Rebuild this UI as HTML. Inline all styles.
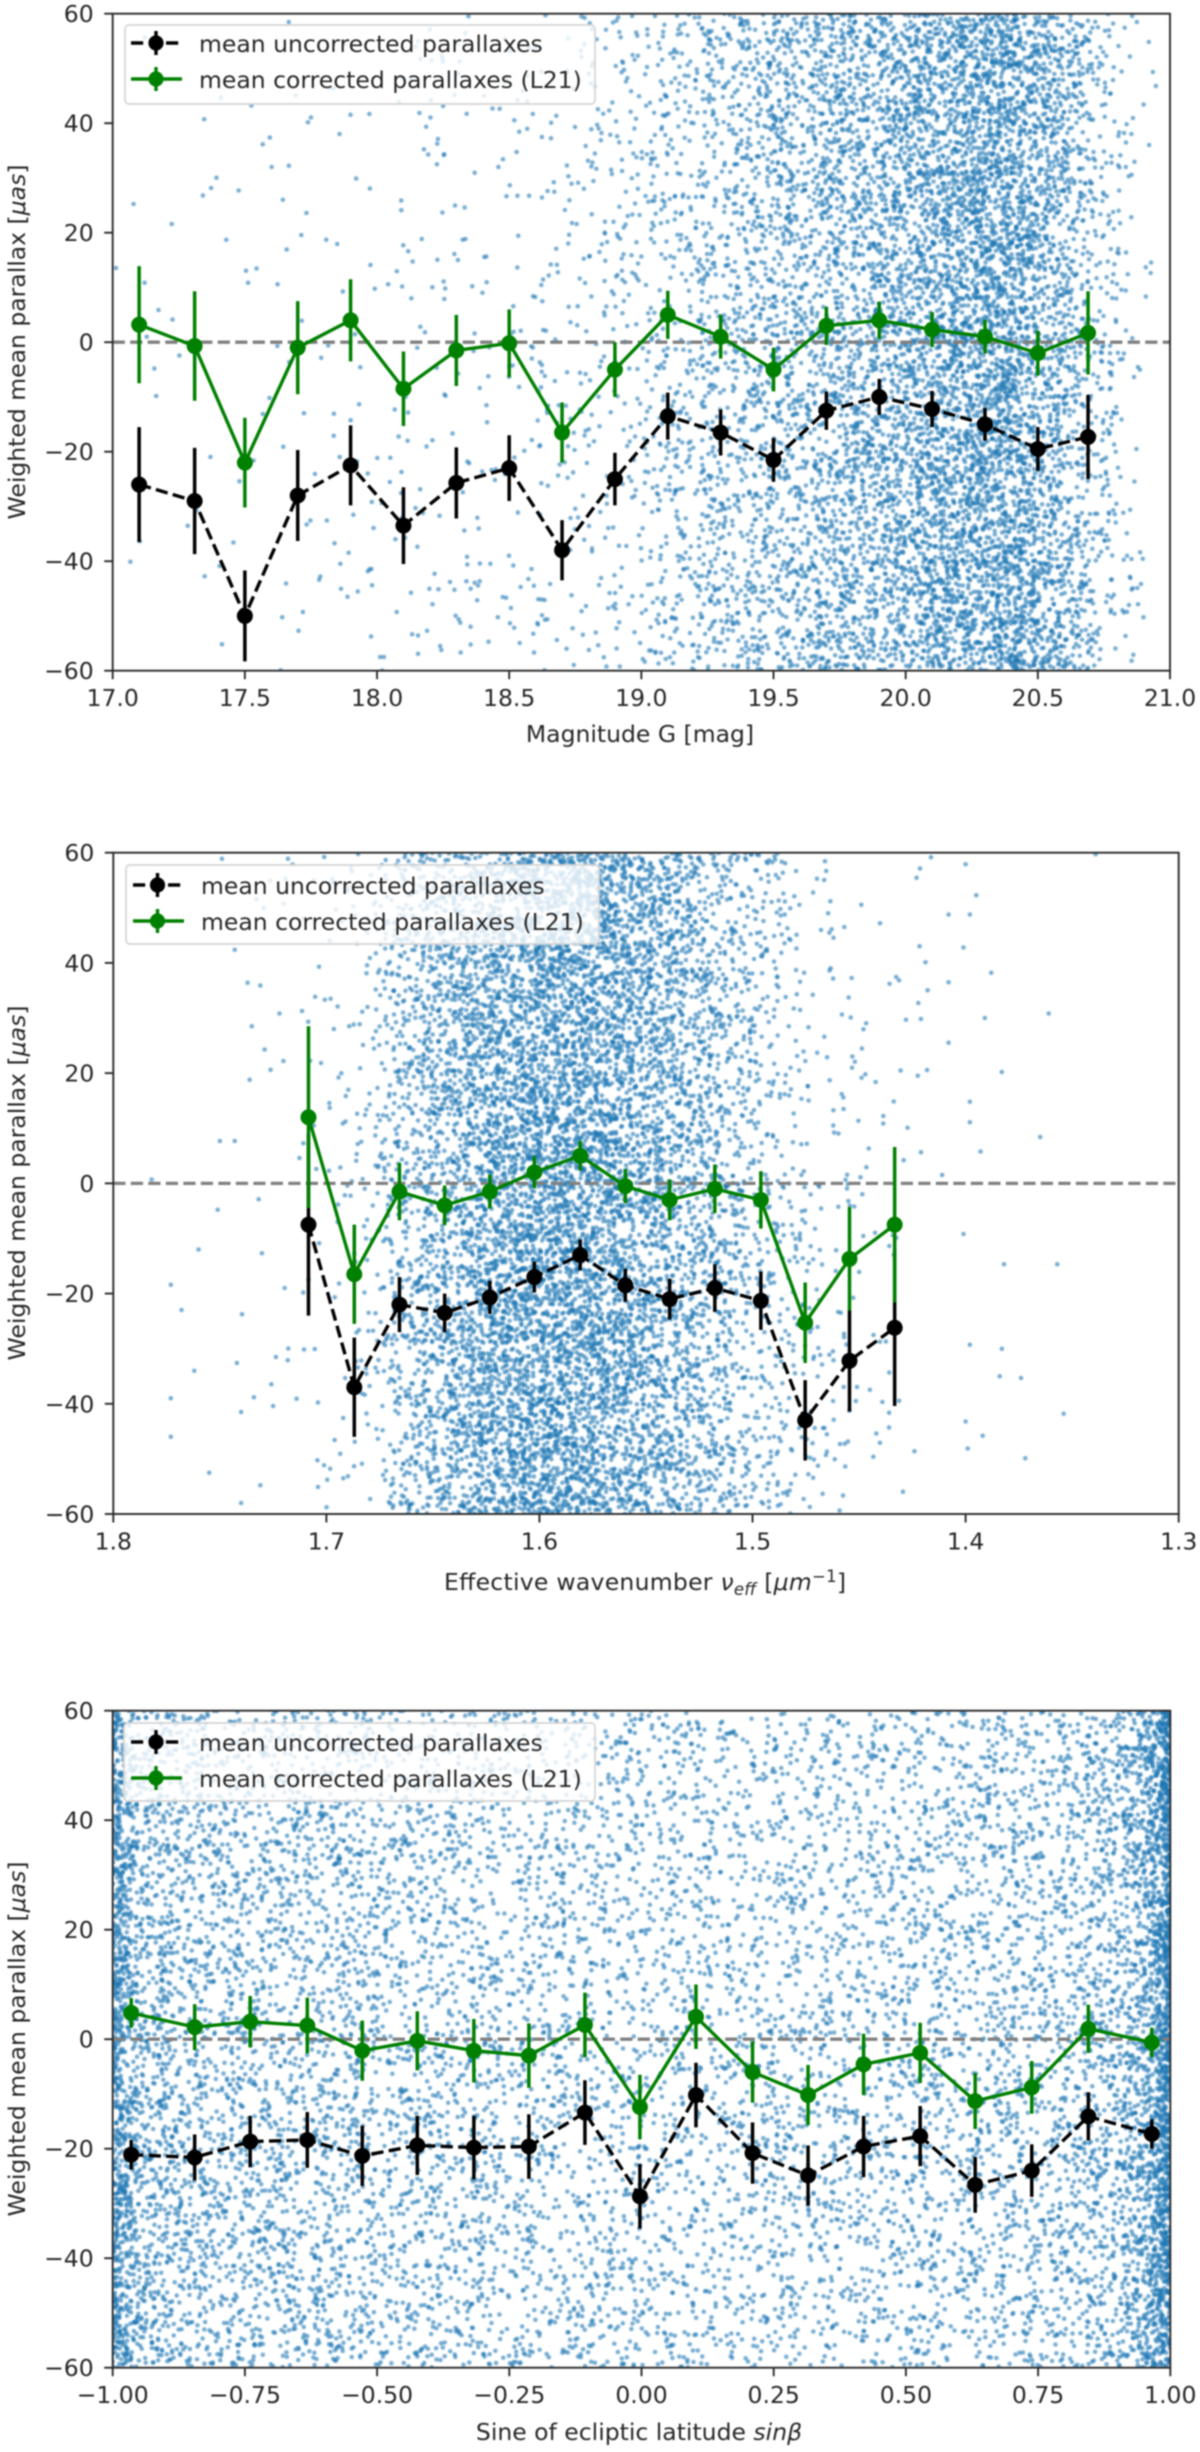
<!DOCTYPE html>
<html lang="en">
<head>
<meta charset="utf-8">
<title>Weighted mean parallax charts</title>
<style>
html,body{margin:0;padding:0;background:#fff;}
#figure{position:relative;width:1200px;height:2452px;background:#fff;overflow:hidden;filter:blur(0.7px);}
#cloud{position:absolute;left:0;top:0;}
#overlay{position:absolute;left:0;top:0;}
text{font-family:"DejaVu Sans","Liberation Sans",sans-serif;font-size:23.5px;fill:#262626;}
.leg-box{fill:#fff;fill-opacity:.8;stroke:#d4d4d4;stroke-width:1.7;}
</style>
</head>
<body>
<div id="figure">
<canvas id="cloud" width="1200" height="2452"></canvas>
<svg id="overlay" width="1200" height="2452" viewBox="0 0 1200 2452" xmlns="http://www.w3.org/2000/svg">
  <g id="panel-mag-marks"></g>
  <g id="panel-nu-marks"></g>
  <g id="panel-sin-marks"></g>

  <!-- Panel 1 titles and legend -->
  <text x="640" y="742" text-anchor="middle">Magnitude G [mag]</text>
  <text transform="translate(25,342) rotate(-90)" text-anchor="middle">Weighted mean parallax [<tspan font-style="italic">μas</tspan>]</text>
  <g transform="translate(125,25)">
    <rect class="leg-box" width="470" height="79" rx="4"></rect>
    <g>
      <path d="M6 18H57" stroke="#000" stroke-width="3.4" stroke-dasharray="12.2 5.3" fill="none"></path>
      <path d="M31 6V30" stroke="#000" stroke-width="3.4"></path>
      <circle cx="31" cy="18" r="7.600"></circle>
      <text x="74" y="27">mean uncorrected parallaxes</text>
    </g>
    <g>
      <path d="M6 54H57" stroke="#008000" stroke-width="3.4" fill="none"></path>
      <path d="M31 42V66" stroke="#008000" stroke-width="3.4"></path>
      <circle cx="31" cy="54" r="7.600" fill="#008000"></circle>
      <text x="74" y="63">mean corrected parallaxes (L21)</text>
    </g>
  </g>

  <!-- Panel 2 titles and legend -->
  <text x="645" y="1590" text-anchor="middle" textLength="402" lengthAdjust="spacing">Effective wavenumber <tspan font-style="italic">ν</tspan><tspan font-style="italic" font-size="16.5" dy="5">eff</tspan><tspan dy="-5"> [</tspan><tspan font-style="italic">μm</tspan><tspan font-size="16.5" dy="-8">−1</tspan><tspan dy="8">]</tspan></text>
  <text transform="translate(25,1183) rotate(-90)" text-anchor="middle">Weighted mean parallax [<tspan font-style="italic">μas</tspan>]</text>
  <g transform="translate(126,865)">
    <rect class="leg-box" width="473" height="79" rx="4"></rect>
    <g>
      <path d="M7 20H58" stroke="#000" stroke-width="3.4" stroke-dasharray="12.2 5.3" fill="none"></path>
      <path d="M31.500 8V32" stroke="#000" stroke-width="3.4"></path>
      <circle cx="31.500" cy="20" r="7.600"></circle>
      <text x="75" y="29">mean uncorrected parallaxes</text>
    </g>
    <g>
      <path d="M7 56H58" stroke="#008000" stroke-width="3.4" fill="none"></path>
      <path d="M31.500 44V68" stroke="#008000" stroke-width="3.4"></path>
      <circle cx="31.500" cy="56" r="7.600" fill="#008000"></circle>
      <text x="75" y="65">mean corrected parallaxes (L21)</text>
    </g>
  </g>

  <!-- Panel 3 titles and legend -->
  <text x="639" y="2440" text-anchor="middle">Sine of ecliptic latitude <tspan font-style="italic">sinβ</tspan></text>
  <text transform="translate(25,2039) rotate(-90)" text-anchor="middle">Weighted mean parallax [<tspan font-style="italic">μas</tspan>]</text>
  <g transform="translate(124,1723)">
    <rect class="leg-box" width="471" height="78" rx="4"></rect>
    <g>
      <path d="M7 19H58" stroke="#000" stroke-width="3.4" stroke-dasharray="12.2 5.3" fill="none"></path>
      <path d="M32 7V31" stroke="#000" stroke-width="3.4"></path>
      <circle cx="32" cy="19" r="7.600"></circle>
      <text x="75" y="28">mean uncorrected parallaxes</text>
    </g>
    <g>
      <path d="M7 55H58" stroke="#008000" stroke-width="3.4" fill="none"></path>
      <path d="M32 43V67" stroke="#008000" stroke-width="3.4"></path>
      <circle cx="32" cy="55" r="7.600" fill="#008000"></circle>
      <text x="75" y="64">mean corrected parallaxes (L21)</text>
    </g>
  </g>
</svg>
</div>
<script>
// ---------- shared axis labels ----------
const yTicks = [-60, -40, -20, 0, 20, 40, 60];
const yTickLabels = ['−60', '−40', '−20', '0', '20', '40', '60'];

// ---------- panel 1: magnitude G ----------
const magCategories = [17.1, 17.31, 17.5, 17.7, 17.9, 18.1, 18.3, 18.5, 18.7, 18.9, 19.1, 19.3, 19.5, 19.7, 19.9, 20.1, 20.3, 20.5, 20.69];
const magUncorrected = [-26, -29, -50, -28, -22.5, -33.5, -25.7, -23, -38, -25, -13.5, -16.5, -21.5, -12.5, -10, -12.2, -15, -19.5, -17.3];
const magUncorrectedErr = [10.5, 9.7, 8.3, 8.3, 7.3, 7, 6.5, 6, 5.5, 4.8, 4.3, 4.2, 4, 3.5, 3.3, 3.3, 3, 4, 7.7];
const magCorrected = [3.2, -0.7, -22, -1, 4, -8.5, -1.5, -0.2, -16.5, -5, 5, 1, -5, 3, 4, 2.3, 1, -2, 1.7];
const magCorrectedErr = [10.7, 10, 8.2, 8.5, 7.5, 6.8, 6.5, 6.2, 5.5, 5, 4.4, 4, 4, 3.5, 3.4, 3.2, 3.1, 4.1, 7.6];
const magXTicks = [17, 17.5, 18, 18.5, 19, 19.5, 20, 20.5, 21];
const magXTickLabels = ['17.0', '17.5', '18.0', '18.5', '19.0', '19.5', '20.0', '20.5', '21.0'];
// Estimated star count per axis unit, judged from the cloud's visual density.
// The individual dots below are a synthetic texture following this density, not transcribed stars.
const magDensityEdges = [17, 17.5, 18, 18.5, 18.8, 19, 19.2, 19.4, 19.6, 19.8, 20, 20.2, 20.4, 20.6, 20.8, 20.9, 21];
const magDensity = [30, 80, 220, 400, 650, 1200, 2300, 3500, 4500, 5500, 6800, 9500, 10500, 5200, 1200, 170, 0];

// ---------- panel 2: effective wavenumber ----------
const nuCategories = [1.7084, 1.6869, 1.6657, 1.6445, 1.6233, 1.6024, 1.5809, 1.5597, 1.5389, 1.5177, 1.4961, 1.4753, 1.4545, 1.4333];
const nuUncorrected = [-7.5, -37, -22, -23.5, -20.7, -17, -13, -18.5, -21, -19, -21.3, -43, -32.2, -26.2];
const nuUncorrectedErr = [16.5, 9, 5, 3.5, 3, 2.8, 2.8, 3, 3.7, 4.3, 5.3, 7.3, 9.2, 14.2];
const nuCorrected = [12, -16.5, -1.5, -4, -1.5, 2, 5, -0.5, -3, -1, -3, -25.3, -13.7, -7.5];
const nuCorrectedErr = [16.5, 9, 5.2, 3.6, 3.1, 2.9, 2.7, 3.1, 3.7, 4.4, 5.2, 7.3, 9.4, 14.1];
const nuXTicks = [1.8, 1.7, 1.6, 1.5, 1.4, 1.3];
const nuXTickLabels = ['1.8', '1.7', '1.6', '1.5', '1.4', '1.3'];
const nuDensityEdges = [1.74, 1.72, 1.70, 1.68, 1.665, 1.64, 1.62, 1.60, 1.58, 1.56, 1.54, 1.52, 1.50, 1.48, 1.46, 1.44, 1.41];
const nuDensity = [300, 800, 2200, 6500, 26000, 52000, 75000, 84000, 88000, 70000, 52000, 36000, 20000, 8000, 4000, 1800, 400];
// individually visible outlying stars
const nuOutlierX = [1.339, 1.4, 1.395, 1.408, 1.398, 1.401, 1.388, 1.408, 1.361, 1.391, 1.408, 1.383, 1.398, 1.398, 1.365, 1.393, 1.411, 1.401, 1.382, 1.357, 1.398, 1.383, 1.384, 1.374, 1.354, 1.4, 1.399, 1.392, 1.372, 1.773, 1.773, 1.762, 1.755, 1.773, 1.768, 1.76, 1.751, 1.75, 1.743, 1.782, 1.749, 1.718, 1.743, 1.737, 1.731, 1.735, 1.736, 1.722, 1.729, 1.74, 1.731, 1.74, 1.734, 1.725, 1.742];
const nuOutlierY = [59.7, 57.9, 52.3, 48.8, 48.8, 42.8, 38.2, 36.5, 30.8, 30, 25.5, 20.2, 14.8, 11.1, 8.4, 5.8, 1.5, -9.2, -14.7, -14.7, -29.3, -30, -35, -35.3, -41.8, -43.2, -48.1, -45.8, -49.9, -39, -46, -34, -52.5, -18.4, -23, -12, -4.8, 7.7, 7.7, 0.7, 58.9, 58.9, 42.4, 36.4, 35.9, 28.5, 18.8, 30.8, 24.3, -58, -54.8, -41.5, -38.8, -40.4, -32.6];

// ---------- panel 3: sine of ecliptic latitude ----------
const sinCategories = [-0.965, -0.845, -0.74, -0.632, -0.528, -0.424, -0.317, -0.213, -0.107, -0.003, 0.103, 0.21, 0.315, 0.42, 0.527, 0.631, 0.738, 0.845, 0.965];
const sinUncorrected = [-21.1, -21.6, -18.7, -18.4, -21.3, -19.4, -19.8, -19.6, -13.4, -28.7, -10.2, -20.8, -24.9, -19.6, -17.7, -26.6, -24, -14.1, -17.3];
const sinUncorrectedErr = [2.7, 4.2, 4.7, 5.1, 5.5, 5.4, 5.8, 5.9, 5.9, 5.9, 5.9, 5.6, 5.5, 5.6, 5.5, 5.1, 4.8, 4.4, 2.7];
const sinCorrected = [4.8, 2.2, 3.2, 2.5, -2.1, -0.3, -2.1, -3, 2.6, -12.4, 4.1, -6, -10.2, -4.6, -2.5, -11.3, -8.8, 1.9, -0.6];
const sinCorrectedErr = [2.7, 4.2, 4.7, 5.1, 5.5, 5.4, 5.8, 5.9, 5.9, 5.9, 5.9, 5.6, 5.5, 5.6, 5.5, 5.1, 4.8, 4.4, 2.7];
const sinXTicks = [-1, -0.75, -0.5, -0.25, 0, 0.25, 0.5, 0.75, 1];
const sinXTickLabels = ['−1.00', '−0.75', '−0.50', '−0.25', '0.00', '0.25', '0.50', '0.75', '1.00'];
const sinDensityEdges = [-1, -0.98, -0.95, -0.9, -0.8, -0.6, -0.4, -0.2, 0, 0.2, 0.4, 0.6, 0.8, 0.9, 0.95, 0.98, 1];
const sinDensity = [40000, 20000, 11000, 8000, 6800, 6000, 5200, 4600, 3900, 3900, 4300, 4800, 6000, 8500, 15000, 30000, 68000];

// ---------- drawing ----------
const SVGNS = 'http://www.w3.org/2000/svg';
const ctx = document.getElementById('cloud').getContext('2d');
function mk(tag, parent, attrs) {
  const el = document.createElementNS(SVGNS, tag);
  for (const k in attrs) el.setAttribute(k, attrs[k]);
  parent.appendChild(el);
  return el;
}

// Fixed-seed generator: only places texture dots inside the density.
let seed = 20210;
function nextTexture() {
  seed = (seed + 0x6D2B79F5) | 0;
  let t = Math.imul(seed ^ (seed >>> 15), 1 | seed);
  t = (t + Math.imul(t ^ (t >>> 7), 61 | t)) ^ t;
  return ((t ^ (t >>> 14)) >>> 0) / 4294967296;
}

function drawCloud(box, xS, yS, edges, density, ox, oy) {
  ctx.save();
  ctx.beginPath();
  ctx.rect(box.left, box.top, box.right - box.left, box.bottom - box.top);
  ctx.clip();
  ctx.fillStyle = 'rgba(31,119,180,0.62)';
  const dot = (px, py) => {
    ctx.beginPath();
    ctx.arc(px, py, 2.25, 0, Math.PI * 2);
    ctx.fill();
  };
  for (let i = 0; i < edges.length - 1; i++) {
    const a = edges[i], b = edges[i + 1], da = density[i], db = density[i + 1];
    const n = Math.round(Math.abs(b - a) * (da + db) / 2);
    for (let j = 0; j < n; j++) {
      const u = nextTexture();
      const f = da === db ? u : (-da + Math.sqrt(da * da + u * (db * db - da * da))) / (db - da);
      dot(xS(a + (b - a) * f), yS(-60 + 120 * nextTexture()));
    }
  }
  if (ox) ox.forEach((v, i) => dot(xS(v), yS(oy[i])));
  ctx.restore();
}

function drawSeries(g, name, xS, yS, cats, vals, errs, color, dash) {
  const d = cats.map((c, i) => (i ? 'L' : 'M') + xS(c).toFixed(2) + ' ' + yS(vals[i]).toFixed(2)).join('');
  const line = mk('path', g, {d: d, fill: 'none', stroke: color, 'stroke-width': 3.4, 'stroke-linejoin': 'round'});
  
  
  if (dash) line.setAttribute('stroke-dasharray', dash);
  cats.forEach((c, i) => {
    const bar = mk('line', g, {x1: xS(c), x2: xS(c), y1: yS(vals[i] + errs[i]), y2: yS(vals[i] - errs[i]), stroke: color, 'stroke-width': 3.5});
    
    
    const dotEl = mk('circle', g, {cx: xS(c), cy: yS(vals[i]), r: 8, fill: color});
    
    
  });
}

function drawPanel(p) {
  const b = p.box;
  const xS = v => b.left + (v - p.xMin) / (p.xMax - p.xMin) * (b.right - b.left);
  const yS = v => b.bottom - (v + 60) / 120 * (b.bottom - b.top);
  const g = document.getElementById(p.id);
  drawCloud(b, xS, yS, p.edges, p.density, p.outX, p.outY);

  const zero = mk('line', g, {x1: b.left, x2: b.right, y1: yS(0), y2: yS(0), stroke: '#808080', 'stroke-width': 3.3, 'stroke-dasharray': '12.2 5.3'});
  
  

  drawSeries(g, 'uncorrected-parallax', xS, yS, p.cats, p.unc, p.uncErr, '#000000', '12.2 5.3');
  drawSeries(g, 'corrected-parallax', xS, yS, p.cats, p.cor, p.corErr, '#008000', null);

  const frame = mk('rect', g, {x: b.left, y: b.top, width: b.right - b.left, height: b.bottom - b.top, fill: 'none', stroke: '#2a2a2a', 'stroke-width': 1.9});
  
  

  p.xTicks.forEach((t, i) => {
    const mark = mk('line', g, {x1: xS(t), x2: xS(t), y1: b.bottom, y2: b.bottom + 8.5, stroke: '#2a2a2a', 'stroke-width': 1.9});
    
    
    const lab = mk('text', g, {x: xS(t), y: b.bottom + 35.5, 'text-anchor': 'middle'});
    
    
    lab.textContent = p.xLabels[i];
  });
  yTicks.forEach((t, i) => {
    const mark = mk('line', g, {x1: b.left - 8.5, x2: b.left, y1: yS(t), y2: yS(t), stroke: '#2a2a2a', 'stroke-width': 1.9});
    
    
    const lab = mk('text', g, {x: b.left - 19, y: yS(t) + 8.5, 'text-anchor': 'end'});
    
    
    lab.textContent = yTickLabels[i];
  });
}

drawPanel({id: 'panel-mag-marks', box: {left: 112.7, right: 1170, top: 13.7, bottom: 670.7}, xMin: 17, xMax: 21,
  cats: magCategories, unc: magUncorrected, uncErr: magUncorrectedErr, cor: magCorrected, corErr: magCorrectedErr,
  xTicks: magXTicks, xLabels: magXTickLabels, edges: magDensityEdges, density: magDensity});
drawPanel({id: 'panel-nu-marks', box: {left: 113.3, right: 1178.7, top: 852.7, bottom: 1514}, xMin: 1.8, xMax: 1.3,
  cats: nuCategories, unc: nuUncorrected, uncErr: nuUncorrectedErr, cor: nuCorrected, corErr: nuCorrectedErr,
  xTicks: nuXTicks, xLabels: nuXTickLabels, edges: nuDensityEdges, density: nuDensity, outX: nuOutlierX, outY: nuOutlierY});
drawPanel({id: 'panel-sin-marks', box: {left: 112.7, right: 1170.3, top: 1710.7, bottom: 2367.7}, xMin: -1, xMax: 1,
  cats: sinCategories, unc: sinUncorrected, uncErr: sinUncorrectedErr, cor: sinCorrected, corErr: sinCorrectedErr,
  xTicks: sinXTicks, xLabels: sinXTickLabels, edges: sinDensityEdges, density: sinDensity});
</script>
</body>
</html>
